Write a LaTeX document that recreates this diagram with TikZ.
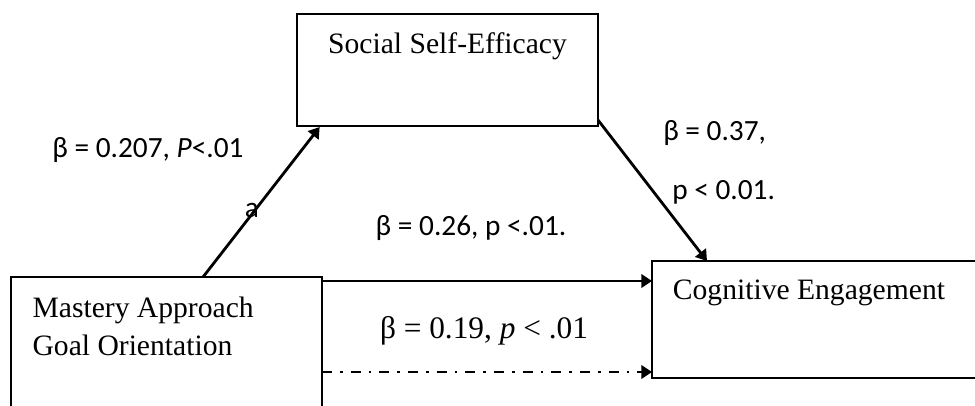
\documentclass[tikz,border=0pt]{standalone}
\usepackage{fontspec}
\setmainfont{Liberation Serif}
\newfontfamily\calibri{Carlito}
\usetikzlibrary{arrows.meta, positioning}

\begin{document}
\begin{tikzpicture}[x=0.75pt, y=-0.75pt,
                    block/.style={rectangle, draw, line width=1.7pt, inner sep=0pt, outer sep=0pt},
                    blocktext/.style={font=\fontsize{22.2}{28.5}\selectfont, inner sep=0pt, align=left},
                    link/.style={-{Triangle[length=8pt, width=10pt]}, line width=2.1pt},
                    coef/.style={font=\calibri\fontsize{22}{26}\selectfont, inner sep=0pt},
                    coefbig/.style={font=\fontsize{23.5}{28}\selectfont, inner sep=0pt}]
\useasboundingbox (0,0) rectangle (975,405);

% Place the blocks
\node[block, minimum width=225.75pt, minimum height=84pt] (social) at (447.5,70) {};
\node[block, minimum width=233.25pt, minimum height=103.5pt] (mastery) at (166.5,346) {};
\node[block, minimum width=246pt, minimum height=87.75pt] (cognitive) at (816,319.5) {};

% Texts inside the blocks
\node[blocktext, below=14pt of social.north] (sociallbl) {Social Self-Efficacy};
\node[blocktext, below right=15pt and 16pt of mastery.north west] (masterylbl) {Mastery Approach\\Goal Orientation};
\node[blocktext, below right=14pt and 15.5pt of cognitive.north west] (cognitivelbl) {Cognitive Engagement};

% Paths
\coordinate (direct) at ([yshift=-15pt]cognitive.north west);
\coordinate (dashed) at ([yshift=4.5pt]cognitive.south west);
\draw[link] ([xshift=27.4pt]mastery.north) -- ([xshift=17pt, yshift=-0.75pt]social.south west);
\draw[link] ([yshift=4.5pt]social.south east) -- ([xshift=41.25pt]cognitive.north west);
\draw[link] (mastery.east |- direct) -- (direct);
\draw[link, dash pattern=on 7.5pt off 6pt on 2pt off 6pt] (mastery.east |- dashed) -- (dashed);

% Coefficients
\node[coef, anchor=base] (coefa) at (148,157) {β = 0.207, \textit{P}<.01};
\node[coef, anchor=base] (pathname) at (252,217) {a};
\node[coef, anchor=base west] (coefb) at (663,140) {β = 0.37,};
\node[coef, anchor=base west] (coefbp) at (672,199) {p < 0.01.};
\node[coef, anchor=base] (coefc) at (471,235) {β = 0.26, p <.01.};
\node[coefbig, anchor=base] (coefcp) at (484,338) {β = 0.19, \textit{p} < .01};

\end{tikzpicture}
\end{document}
